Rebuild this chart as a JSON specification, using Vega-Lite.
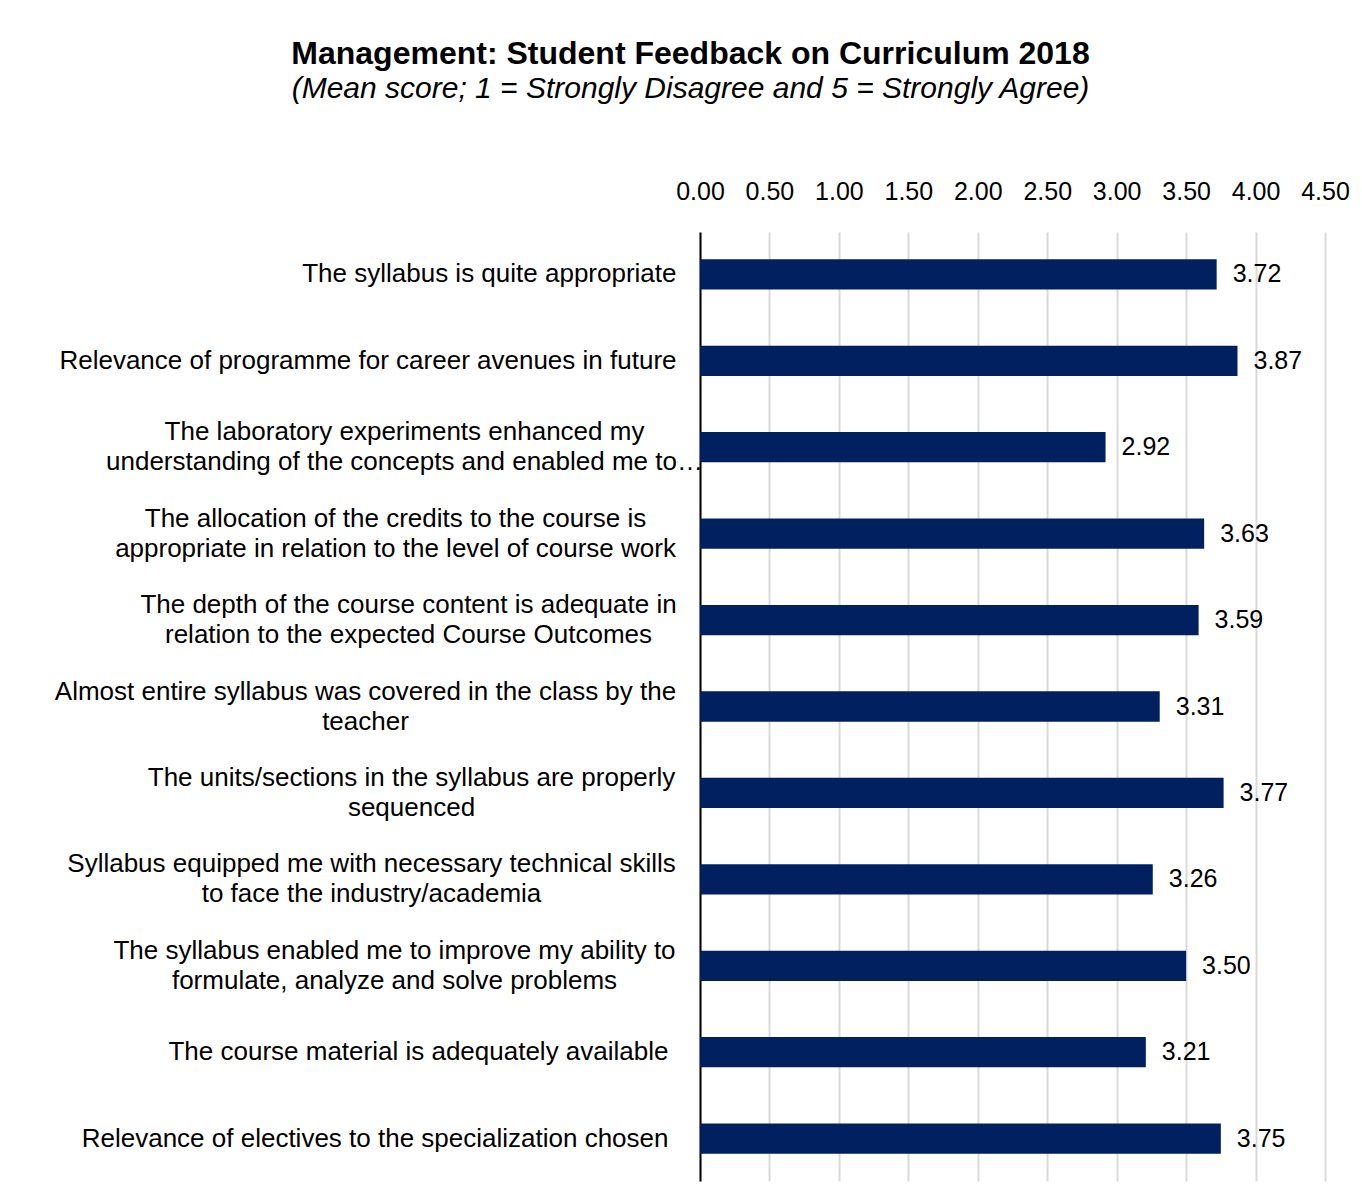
{
  "$schema": "https://vega.github.io/schema/vega-lite/v6.json",
  "autosize": "none",
  "padding": {"left": 700, "top": 232, "right": 37, "bottom": 15},
  "width": 625,
  "height": 949,
  "background": "white",
  "title": {
    "text": "Management: Student Feedback on Curriculum 2018",
    "subtitle": "(Mean score; 1 = Strongly Disagree and 5 = Strongly Agree)",
    "anchor": "middle",
    "frame": "group",
    "dx": -322,
    "offset": 74,
    "font": "Liberation Sans",
    "fontSize": 32,
    "fontWeight": "bold",
    "color": "#000000",
    "subtitleFont": "Liberation Sans",
    "subtitleFontSize": 30,
    "subtitleFontStyle": "italic",
    "subtitleColor": "#000000",
    "subtitlePadding": 3
  },
  "data": {
    "values": [
      {"item": "The syllabus is quite appropriate", "score": 3.72},
      {"item": "Relevance of programme for career avenues in future", "score": 3.87},
      {"item": "The laboratory experiments enhanced my|understanding of the concepts and enabled me to…", "score": 2.92},
      {"item": "The allocation of the credits to the course is|appropriate in relation to the level of course work", "score": 3.63},
      {"item": "The depth of the course content is adequate in|relation to the expected Course Outcomes", "score": 3.59},
      {"item": "Almost entire syllabus was covered in the class by the|teacher", "score": 3.31},
      {"item": "The units/sections in the syllabus are properly|sequenced", "score": 3.77},
      {"item": "Syllabus equipped me with necessary technical skills|to face the industry/academia", "score": 3.26},
      {"item": "The syllabus enabled me to improve my ability to|formulate, analyze and solve problems", "score": 3.50},
      {"item": "The course material is adequately available", "score": 3.21},
      {"item": "Relevance of electives to the specialization chosen", "score": 3.75}
    ]
  },
  "encoding": {
    "y": {
      "field": "item",
      "type": "nominal",
      "sort": null,
      "scale": {"paddingInner": 0.65, "paddingOuter": 0.315},
      "axis": {
        "title": null,
        "labelExpr": "split(datum.label, '|')",
        "labelOffset": {"condition": {"test": "indexof(datum.value, '|') >= 0", "value": -15}, "value": 0},
        "labelAlign": {"condition": {"test": "indexof(datum.value, '|') >= 0", "value": "center"}, "value": "right"},
        "labelPadding": {"condition": [
          {"test": "indexof(datum.value, 'laboratory') >= 0", "value": 296},
          {"test": "indexof(datum.value, 'allocation') >= 0", "value": 305},
          {"test": "indexof(datum.value, 'depth') >= 0", "value": 292},
          {"test": "indexof(datum.value, 'Almost') >= 0", "value": 335},
          {"test": "indexof(datum.value, 'units') >= 0", "value": 289},
          {"test": "indexof(datum.value, 'equipped') >= 0", "value": 329},
          {"test": "indexof(datum.value, 'enabled me to improve') >= 0", "value": 306},
          {"test": "indexof(datum.value, 'course material') >= 0", "value": 32},
          {"test": "indexof(datum.value, 'electives') >= 0", "value": 32}
        ], "value": 24},
        "labelFont": "Liberation Sans",
        "labelFontSize": 26,
        "labelColor": "#000000",
        "labelLineHeight": 30,
        "labelLimit": 0,
        "ticks": false,
        "domain": true,
        "domainColor": "#000000",
        "domainWidth": 2,
        "grid": false
      }
    },
    "x": {
      "field": "score",
      "type": "quantitative",
      "scale": {"domain": [0, 4.5], "nice": false},
      "axis": {
        "orient": "top",
        "title": null,
        "values": [0, 0.5, 1, 1.5, 2, 2.5, 3, 3.5, 4, 4.5],
        "format": ".2f",
        "labelFont": "Liberation Sans",
        "labelFontSize": 25,
        "labelColor": "#000000",
        "labelPadding": 28,
        "labelFlush": false,
        "labelOverlap": false,
        "ticks": false,
        "domain": false,
        "grid": true,
        "gridColor": "#d9d9d9",
        "gridWidth": 2
      }
    }
  },
  "layer": [
    {"mark": {"type": "bar", "color": "#002060"}},
    {
      "mark": {"type": "text", "align": "left", "baseline": "middle", "dx": 16, "font": "Liberation Sans", "fontSize": 25, "color": "#000000"},
      "encoding": {"text": {"field": "score", "type": "quantitative", "format": ".2f"}}
    }
  ],
  "config": {"view": {"stroke": null}}
}
